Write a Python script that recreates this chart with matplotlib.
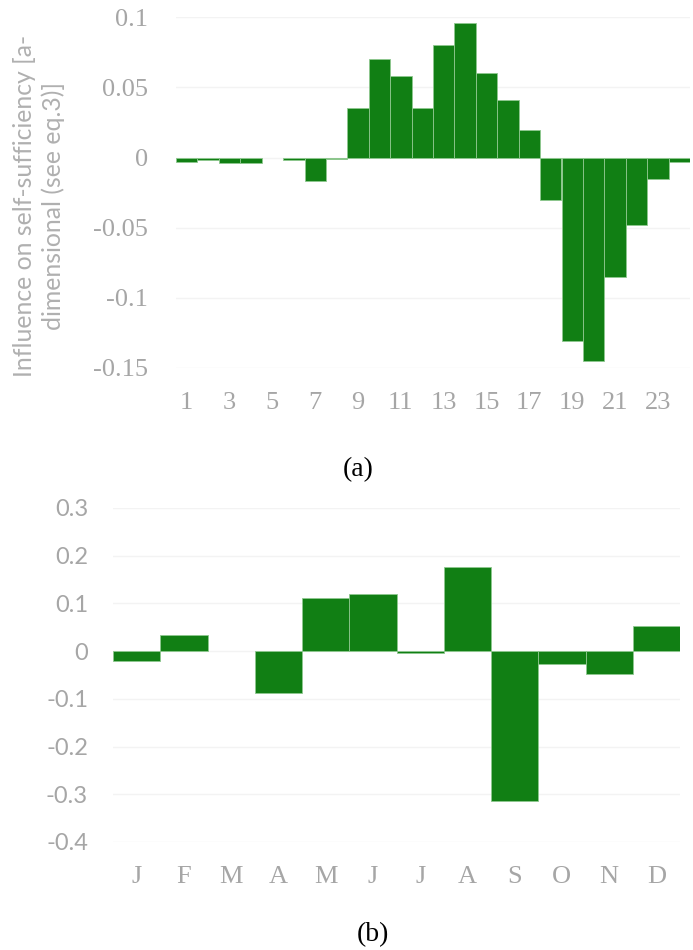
import matplotlib
matplotlib.use("Agg")
import matplotlib.pyplot as plt
import numpy as np

# Hourly influence on self-sufficiency (hours 1..24)
hours = list(range(1, 25))
hourly_values = [-0.003, -0.002, -0.004, -0.004, 0.0, -0.0015, -0.017, -0.001,
                 0.035, 0.070, 0.058, 0.035, 0.080, 0.096, 0.060, 0.041,
                 0.020, -0.030, -0.131, -0.145, -0.085, -0.048, -0.015, -0.003]
hour_tick_labels = [str(h) for h in range(1, 25, 2)]

# Monthly influence on self-sufficiency
months = ["J", "F", "M", "A", "M", "J", "J", "A", "S", "O", "N", "D"]
monthly_values = [-0.020, 0.033, 0.0, -0.088, 0.112, 0.119, -0.003, 0.176,
                  -0.315, -0.027, -0.048, 0.052]

y_label = "Influence on self-sufficiency [a-\ndimensional (see eq.3)]"

BAR = "#117f14"
EDGE = "#8fc88f"
GREY = "#a6a6a6"
GRID = "#f3f3f3"
SERIF = ["Liberation Serif", "DejaVu Serif"]
SANS = ["Lato", "DejaVu Sans"]

W, H = 693, 950
fig = plt.figure(figsize=(W / 100, H / 100), dpi=100)


def axes_px(left, top, right, bottom):
    return fig.add_axes([left / W, 1 - bottom / H, (right - left) / W, (bottom - top) / H])


def style(ax):
    for s in ax.spines.values():
        s.set_visible(False)
    ax.set_axisbelow(True)
    ax.yaxis.grid(True, color=GRID, linewidth=1.0)
    ax.xaxis.grid(False)
    ax.tick_params(length=0, colors=GREY)


def edge_widths(values):
    # no outline on empty bars
    return [0.6 if v != 0 else 0.0 for v in values]


# (a) hourly chart
ax1 = axes_px(176, 17.3, 690, 368)
ax1.bar(hours, hourly_values, width=1.0, color=BAR, edgecolor=EDGE,
        linewidth=edge_widths(hourly_values))
ax1.set_xlim(0.5, 24.5)
ax1.set_ylim(-0.15, 0.1)
ax1.set_yticks([0.1, 0.05, 0, -0.05, -0.1, -0.15])
ax1.set_yticklabels(["0.1", "0.05", "0", "-0.05", "-0.1", "-0.15"],
                    family=SERIF, fontsize=19, color=GREY)
ax1.set_xticks(list(range(1, 25, 2)))
ax1.set_xticklabels(hour_tick_labels, family=SERIF, fontsize=19, color=GREY)
style(ax1)
ax1.tick_params(axis="y", pad=20)
ax1.tick_params(axis="x", pad=17)

fig.text(39 / W, 1 - 206 / H, y_label, rotation=90, ha="center", va="center",
         multialignment="center", family=SANS, fontsize=17.8, color="#b0b0b0",
         linespacing=1.25)
fig.text(358 / W, 1 - 470 / H, "(a)", ha="center", va="center",
         family=SERIF, fontsize=20, color="black")

# (b) monthly chart
ax2 = axes_px(113, 508, 680, 842)
ax2.bar(range(len(months)), monthly_values, width=1.0, color=BAR, edgecolor=EDGE,
        linewidth=edge_widths(monthly_values))
ax2.set_xlim(-0.5, len(months) - 0.5)
ax2.set_ylim(-0.4, 0.3)
yt = [0.3, 0.2, 0.1, 0, -0.1, -0.2, -0.3, -0.4]
ax2.set_yticks(yt)
ax2.set_yticklabels(["0.3", "0.2", "0.1", "0", "-0.1", "-0.2", "-0.3", "-0.4"],
                    family=SANS, fontsize=17, color=GREY)
ax2.set_xticks(range(len(months)))
ax2.set_xticklabels(months, family=SERIF, fontsize=19, color=GREY)
style(ax2)
ax2.tick_params(axis="y", pad=18)
ax2.tick_params(axis="x", pad=17)

fig.text(373 / W, 1 - 935 / H, "(b)", ha="center", va="center",
         family=SERIF, fontsize=20, color="black")

fig.savefig("out.png", dpi=100, facecolor="white")
